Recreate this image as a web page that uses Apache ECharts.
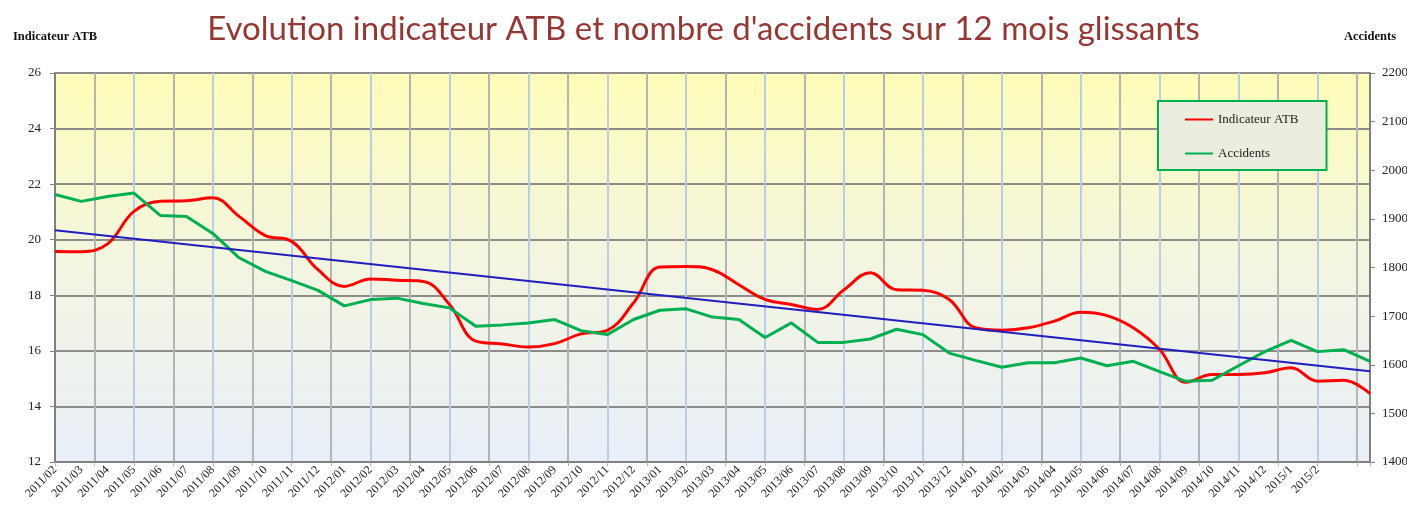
<!DOCTYPE html>
<html>
<head>
<meta charset="utf-8">
<script src="https://cdn.jsdelivr.net/npm/echarts@6/dist/echarts.min.js"></script>
<style>
  html, body { margin: 0; padding: 0; background: #fff; }
  #chart { width: 1407px; height: 513px; }
</style>
</head>
<body>
<div id="chart"></div>
<script>
// libellés de l'axe des x (les deux derniers points n'ont pas de libellé)
const months = [
  '2011/02', '2011/03', '2011/04', '2011/05', '2011/06', '2011/07', '2011/08', '2011/09', '2011/10', '2011/11', '2011/12',
  '2012/01', '2012/02', '2012/03', '2012/04', '2012/05', '2012/06', '2012/07', '2012/08', '2012/09', '2012/10', '2012/11', '2012/12',
  '2013/01', '2013/02', '2013/03', '2013/04', '2013/05', '2013/06', '2013/07', '2013/08', '2013/09', '2013/10', '2013/11', '2013/12',
  '2014/01', '2014/02', '2014/03', '2014/04', '2014/05', '2014/06', '2014/07', '2014/08', '2014/09', '2014/10', '2014/11', '2014/12',
  '2015/1', '2015/2', '', ''
]

// indicateur ATB (axe de gauche)
const indicateurATB = [
  19.58, 19.57, 19.85, 21.02, 21.38, 21.40, 21.51, 20.84, 20.15, 19.94, 18.92,
  18.32, 18.59, 18.54, 18.50, 17.67, 16.35, 16.25, 16.14, 16.26, 16.61, 16.74,
  17.73, 19.02, 19.04, 18.92, 18.38, 17.85, 17.67, 17.49, 18.20, 18.81, 18.20,
  18.18, 17.85, 16.83, 16.74, 16.83, 17.07, 17.39, 17.27, 16.83, 16.05, 14.87,
  15.15, 15.15, 15.21, 15.39, 14.91, 14.94, 14.46
]

// nombre d'accidents (axe de droite)
const accidents = [
  1950, 1936, 1946, 1953, 1907, 1905, 1870, 1820, 1792, 1773, 1753,
  1721, 1734, 1737, 1726, 1717, 1679, 1682, 1686, 1693, 1670, 1662,
  1693, 1712, 1715, 1698, 1693, 1656, 1686, 1646, 1646, 1653, 1673,
  1662, 1624, 1609, 1595, 1604, 1604, 1614, 1598, 1607, 1586, 1566,
  1568, 1598, 1627, 1650, 1627, 1631, 1607
]

// tendance linéaire de l'indicateur : début et fin
const trendX = [0, 50]
const trendATB = [20.34, 15.27]

const serif = '"Liberation Serif", "DejaVu Serif", serif'

const myChart = echarts.init(document.getElementById('chart'))

const option = {
  animation: false,
  title: {
    text: "Evolution indicateur ATB et nombre d'accidents sur 12 mois glissants",
    left: 'center',
    top: 8,
    textStyle: {
      color: '#953735',
      fontFamily: 'Lato',
      fontWeight: 'normal',
      fontSize: 33
    }
  },
  legend: {
    data: ['Indicateur ATB', 'Accidents'],
    orient: 'vertical',
    left: 1158,
    top: 101,
    padding: [12, 28, 10, 27],
    itemGap: 21,
    itemWidth: 28,
    itemHeight: 2,
    icon: 'rect',
    backgroundColor: '#ebeedf',
    borderColor: '#00b050',
    borderWidth: 2,
    borderRadius: 0,
    textStyle: { fontFamily: serif, fontSize: 13, color: '#222' }
  },
  grid: {
    left: 55,
    right: 37,
    top: 73,
    bottom: 51,
    outerBoundsMode: 'none',
    containLabel: false,
    show: true,
    borderWidth: 0,
    backgroundColor: new echarts.graphic.LinearGradient(0, 0, 0, 1, [
      { offset: 0, color: '#fefdb9' },
      { offset: 0.5, color: '#f3f5e1' },
      { offset: 1, color: '#e8eff9' }
    ])
  },
  xAxis: [
    {
      type: 'category',
      data: months,
      boundaryGap: false,
      axisLine: { lineStyle: { color: '#808080', width: 2 } },
      axisTick: { show: false },
      splitLine: { show: false },
      axisLabel: {
        interval: 0,
        rotate: 45,
        margin: 6,
        fontFamily: serif,
        fontSize: 12,
        color: '#222'
      }
    },
    {
      // quadrillage vertical (gris / bleu en alternance)
      type: 'value',
      min: 0,
      max: 50,
      interval: 1.5,
      position: 'bottom',
      axisLine: { show: false },
      axisTick: { show: true, inside: false, length: 4, lineStyle: { color: '#b4b4b4' } },
      axisLabel: { show: false },
      splitLine: {
        show: true,
        lineStyle: { color: ['#b9cde5', '#b4b4b4'], width: 2 }
      }
    }
  ],
  yAxis: [
    {
      type: 'value',
      name: 'Indicateur ATB',
      nameLocation: 'end',
      nameGap: 30,
      nameTextStyle: { fontFamily: serif, fontSize: 12.5, fontWeight: 'bold', color: '#111' },
      min: 12,
      max: 26,
      interval: 2,
      position: 'left',
      axisLine: { show: true, lineStyle: { color: '#808080', width: 2 } },
      axisTick: { show: true, length: 5, lineStyle: { color: '#808080' } },
      axisLabel: { margin: 14, fontFamily: serif, fontSize: 13, color: '#222' },
      splitLine: { show: true, lineStyle: { color: '#8c8c8c', width: 2 } }
    },
    {
      type: 'value',
      name: 'Accidents',
      nameLocation: 'end',
      nameGap: 30,
      nameTextStyle: { fontFamily: serif, fontSize: 12.5, fontWeight: 'bold', color: '#111' },
      min: 1400,
      max: 2200,
      interval: 100,
      position: 'right',
      axisLine: { show: true, lineStyle: { color: '#808080', width: 2 } },
      axisTick: { show: true, length: 5, lineStyle: { color: '#808080' } },
      axisLabel: {
        margin: 12,
        fontFamily: serif,
        fontSize: 13,
        color: '#222',
        // pas de séparateur de milliers
        formatter: function (v) { return String(v) }
      },
      splitLine: { show: false }
    }
  ],
  series: [
    {
      name: 'Indicateur ATB',
      type: 'line',
      xAxisIndex: 0,
      yAxisIndex: 0,
      data: indicateurATB,
      smooth: 0.4,
      showSymbol: false,
      color: '#ff0000',
      lineStyle: { color: '#ff0000', width: 3 }
    },
    {
      name: 'Accidents',
      type: 'line',
      xAxisIndex: 0,
      yAxisIndex: 1,
      data: accidents,
      showSymbol: false,
      color: '#00b050',
      lineStyle: { color: '#00b050', width: 3 }
    },
    {
      name: 'Tendance',
      type: 'line',
      xAxisIndex: 1,
      yAxisIndex: 0,
      data: trendX.map((x, i) => [x, trendATB[i]]),
      showSymbol: false,
      color: '#1f1fbf',
      lineStyle: { color: '#1f1fbf', width: 2 }
    }
  ]
}

myChart.setOption(option)
</script>
</body>
</html>
